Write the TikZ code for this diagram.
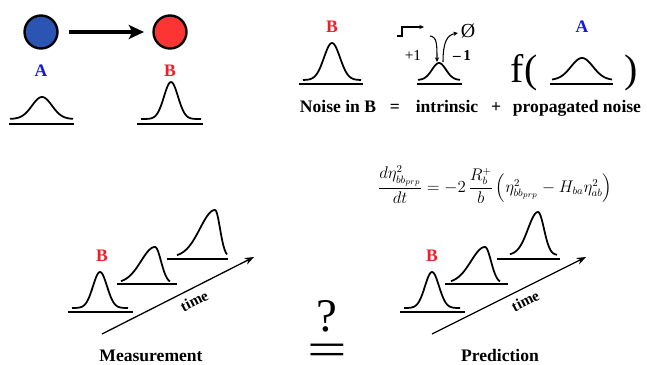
\documentclass[tikz,border=0pt]{standalone}
\usepackage{fontspec}
\setmainfont{Liberation Serif}
\usepackage{amsmath,amssymb}
\usetikzlibrary{calc, positioning, arrows.meta}

\definecolor{nodeblue}{RGB}{44,84,178}
\definecolor{nodered}{RGB}{252,52,52}
\definecolor{labelblue}{RGB}{20,20,235}
\definecolor{labelred}{RGB}{240,28,40}

% bump: centre x, foot y, height, left sigma, right sigma, left reach, right reach
\newcommand{\bump}[7]{%
  \draw[bellline] plot[domain=-#6:0, samples=30, smooth] ({#1+\x}, {#2-#3*exp(-0.5*(\x/#4)^2)})
    -- plot[domain=0:#7, samples=30, smooth] ({#1+\x}, {#2-#3*exp(-0.5*(\x/#5)^2)});
}

\begin{document}
\begin{tikzpicture}[
    x=0.03cm, y=-0.03cm,
    bellline/.style={line width=1.5pt, line join=round},
    floorline/.style={line width=1.8pt},
    dot/.style={circle, draw=black, line width=2pt, minimum size=0.99cm, inner sep=0pt},
    lab/.style={font=\fontsize{15}{17}\selectfont\bfseries, inner sep=0pt, anchor=base},
    timearrow/.style={line width=1.1pt, -{Stealth[length=8pt, width=6pt]}},
    thinarrow/.style={line width=0.9pt, -{Stealth[length=4pt, width=3.6pt]}}
]
    \useasboundingbox (0,0) rectangle (647,364);

    % 1. A -> B, top left
    \node[dot, fill=nodeblue] (circA) at (41,32) {};
    \node[dot, fill=nodered] (circB) at (170,32) {};
    \draw[line width=2.6pt, -{Stealth[length=13pt, width=12pt, inset=3pt]},
          shorten <=0.3cm, shorten >=0.25cm] (circA) -- (circB);

    \node[lab, text=labelblue] (labA) at (41,76) {A};
    \node[lab, text=labelred] (labB) at (170,76) {B};

    \bump{42}{119}{22}{10}{10}{32}{31}
    \draw[floorline] (9,124) -- (74,124);
    \bump{171}{119}{37}{7}{7}{30}{30}
    \draw[floorline] (137,124) -- (203,124);

    % 2. Noise in B = intrinsic + propagated noise
    \node[lab, text=labelred] (noiseLabB) at (332,32) {B};
    \bump{332}{80}{37}{8}{8}{29}{29}
    \draw[floorline] (299,84) -- (363,84);

    % production / degradation
    \coordinate (prom1) at (397,36);
    \coordinate (prom2) at (402,36);
    \coordinate (prom3) at (402,27);
    \coordinate (prom4) at (424,27);
    \draw[thinarrow] (prom1) -- (prom2) -- (prom3) -- (prom4);
    \draw[thinarrow] (430,36) .. controls (437,37) and (437,44) .. (437,62);
    \draw[thinarrow] (443,62) .. controls (443,42) and (447,35) .. (458,33);
    \node[font=\fontsize{17}{19}\selectfont, inner sep=0pt] (sink) at (468,31) {\O};
    \node[font=\fontsize{13}{15}\selectfont, inner sep=0pt, anchor=base] (plusOne) at (413,60) {+1};
    \node[font=\fontsize{13}{15}\selectfont\bfseries, inner sep=0pt, anchor=base] (minusOne) at (462,60) {\textendash\,1};

    \bump{439}{80}{17}{7}{7}{21}{21}
    \draw[floorline] (417,84) -- (462,84);

    \node[font=\fontsize{34}{36}\selectfont, inner sep=0pt, anchor=base] (fOpen) at (524,82) {f(};
    \node[lab, text=labelblue] (noiseLabA) at (582,32) {A};
    \bump{582}{80}{22}{11}{11}{30}{30}
    \draw[floorline] (550,84) -- (613,84);
    \node[font=\fontsize{34}{36}\selectfont, inner sep=0pt, anchor=base] (fClose) at (631,82) {)};

    \node[lab] (noiseB) at (338,112) {Noise in B};
    \node[lab] (eqsign) at (395,112) {=};
    \node[lab] (intrinsic) at (447,112) {intrinsic};
    \node[lab] (plus) at (496,112) {+};
    \node[lab] (propagated) at (577,112) {propagated noise};

    % 3. Model equation
    \node[font=\fontsize{13.5}{16}\selectfont, inner sep=0pt] (model) at (495,185)
        {$\dfrac{d\eta^2_{bb_{prp}}}{dt} = -2\,\dfrac{R_b^+}{b}\left(\eta^2_{bb_{prp}} - H_{ba}\eta^2_{ab}\right)$};

    % 4. Measurement
    \node[lab, text=labelred] (measB) at (102,261) {B};
    \bump{100}{308}{36}{7}{7}{28}{28}
    \draw[floorline] (68,312) -- (133,312);
    \bump{155}{283}{36}{14}{6}{34}{15}
    \draw[floorline] (117,284) -- (177,284);
    \bump{215}{257}{47}{15}{5}{38}{12}
    \draw[floorline] (167,259) -- (228,259);

    \coordinate (measStart) at (102,334);
    \coordinate (measEnd) at (254,257);
    \draw[timearrow] (measStart) -- (measEnd)
        node[pos=0.57, sloped, below=2pt, font=\fontsize{13}{15}\selectfont\bfseries] (measTime) {time};
    \node[lab] (measurement) at (151,361) {Measurement};

    % 5. Prediction
    \node[lab, text=labelred] (predB) at (432,261) {B};
    \bump{432}{308}{36}{7}{7}{28}{28}
    \draw[floorline] (400,312) -- (465,312);
    \bump{485}{283}{36}{14}{6}{34}{15}
    \draw[floorline] (445,284) -- (508,284);
    \bump{538}{255}{43}{10}{6}{28}{19}
    \draw[floorline] (497,259) -- (560,259);

    \coordinate (predStart) at (432,334);
    \coordinate (predEnd) at (586,257);
    \draw[timearrow] (predStart) -- (predEnd)
        node[pos=0.57, sloped, below=2pt, font=\fontsize{13}{15}\selectfont\bfseries] (predTime) {time};
    \node[lab] (prediction) at (500,361) {Prediction};

    % 6. ? and =
    \node[font=\fontsize{40}{42}\selectfont, inner sep=0pt, anchor=base] (query) at (327,331) {?};
    \node[font=\fontsize{40}{42}\selectfont, inner sep=0pt, xscale=1.5, anchor=base] (equal) at (327,365) {=};

\end{tikzpicture}
\end{document}
